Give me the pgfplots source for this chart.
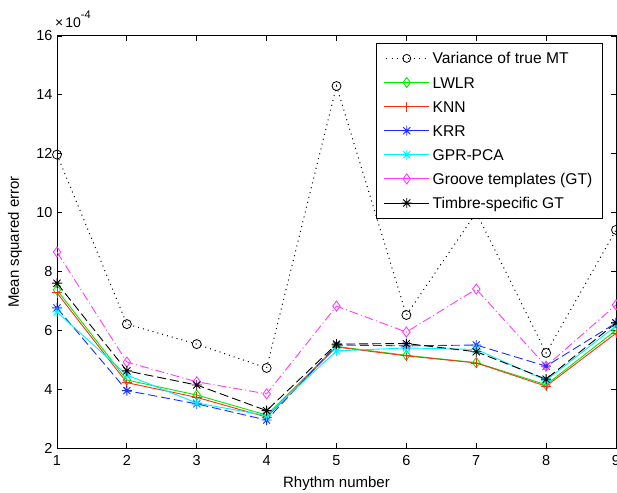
\documentclass[border=0pt]{standalone}
\usepackage{fontspec}
\setmainfont{Liberation Sans}
\usepackage{pgfplots}
\pgfplotsset{compat=1.18}
\pgfdeclareplotmark{mstar}{%
  \pgfpathmoveto{\pgfqpoint{-\pgfplotmarksize}{0pt}}\pgfpathlineto{\pgfqpoint{\pgfplotmarksize}{0pt}}%
  \pgfpathmoveto{\pgfqpoint{0pt}{-\pgfplotmarksize}}\pgfpathlineto{\pgfqpoint{0pt}{\pgfplotmarksize}}%
  \pgfpathmoveto{\pgfqpoint{-.707\pgfplotmarksize}{-.707\pgfplotmarksize}}\pgfpathlineto{\pgfqpoint{.707\pgfplotmarksize}{.707\pgfplotmarksize}}%
  \pgfpathmoveto{\pgfqpoint{-.707\pgfplotmarksize}{.707\pgfplotmarksize}}\pgfpathlineto{\pgfqpoint{.707\pgfplotmarksize}{-.707\pgfplotmarksize}}%
  \pgfusepathqstroke}
\definecolor{mred}{RGB}{255,45,20}
\definecolor{mblue}{RGB}{25,45,255}
\definecolor{mgreen}{RGB}{0,235,0}
\definecolor{mcyan}{RGB}{0,240,255}
\definecolor{mmag}{RGB}{255,60,255}
\begin{document}
\begin{tikzpicture}[x=1pt,y=1pt]
\begin{axis}[
  name=ax, at={(0,0)}, anchor=south west,
  scale only axis, width=559pt, height=412pt,
  xmin=1, xmax=9, ymin=2, ymax=16,
  xtick={1,...,9}, ytick={2,4,...,16},
  tick align=inside, major tick length=5pt,
  axis line style={line width=1pt},
  every tick/.style={black, line width=0.8pt},
  tick label style={font=\fontsize{14.5}{16}\selectfont},
  /pgf/number format/assume math mode=true,
  xticklabel style={yshift=-4pt},
  yticklabel style={xshift=-1pt},
  xlabel={Rhythm number}, ylabel={Mean squared error},
  label style={font=\fontsize{15}{17}\selectfont},
  xlabel style={at={(axis description cs:0.5,-0.087)}, anchor=center},
  ylabel style={at={(axis description cs:-0.075,0.5)}, anchor=center},
  legend cell align=left,
  legend image code/.code={%
    \draw[#1,solid] (0pt,0pt) -- (45pt,0pt);
    \draw[#1,solid] plot[mark repeat=1] coordinates {(22.5pt,0pt)};},
  legend style={at={(0.977,0.983)}, anchor=north east, draw=black, line width=0.8pt, fill=white,
    font=\fontsize{15.6}{17}\selectfont, row sep=5.1pt, inner xsep=7.5pt, inner ysep=5.5pt,
    nodes={inner ysep=2pt, inner xsep=3pt, text height=13pt, text depth=2pt}},
]
\addplot[black, line width=1pt, dash pattern=on 1pt off 4pt, mark=o, mark size=4.5pt, mark options={solid, line width=0.8pt},
  legend image code/.code={%
    \draw[black, line width=1pt, dash pattern=on 1pt off 4.5pt] (2pt,0pt) -- (45pt,0pt);
    \draw[black, solid, line width=0.8pt] (22.5pt,0pt) circle (4pt);}]
  coordinates {(1,11.97) (2,6.21) (3,5.53) (4,4.72) (5,14.3) (6,6.52) (7,10.0) (8,5.23) (9,9.41)};
\addlegendentry{Variance of true MT}
\addplot[mgreen, line width=0.9pt, mark=diamond, mark size=5pt, mark options={solid}]
  coordinates {(1,7.37) (2,4.31) (3,3.8) (4,3.12) (5,5.45) (6,5.15) (7,4.9) (8,4.15) (9,6.0)};
\addlegendentry{LWLR}
\addplot[mred, line width=0.9pt, mark=+, mark size=5pt, mark options={solid}]
  coordinates {(1,7.27) (2,4.22) (3,3.72) (4,3.05) (5,5.43) (6,5.13) (7,4.89) (8,4.1) (9,5.9)};
\addlegendentry{KNN}
\addplot[mblue, line width=0.9pt, dash pattern=on 9pt off 4pt, mark=mstar, mark size=5pt, mark options={solid}]
  coordinates {(1,6.76) (2,3.95) (3,3.5) (4,2.95) (5,5.5) (6,5.47) (7,5.5) (8,4.78) (9,6.25)};
\addlegendentry{KRR}
\addplot[mcyan, line width=0.9pt, mark=mstar, mark size=5pt, mark options={solid}]
  coordinates {(1,6.62) (2,4.48) (3,3.53) (4,3.1) (5,5.3) (6,5.4) (7,5.35) (8,4.3) (9,6.15)};
\addlegendentry{GPR-PCA}
\addplot[mmag, line width=0.9pt, dash pattern=on 9pt off 3pt on 1pt off 3pt, mark=diamond, mark size=5pt, mark options={solid}]
  coordinates {(1,8.66) (2,4.92) (3,4.25) (4,3.84) (5,6.82) (6,5.94) (7,7.4) (8,4.78) (9,6.86)};
\addlegendentry{Groove templates (GT)}
\addplot[black, line width=0.9pt, dash pattern=on 9pt off 4pt, mark=mstar, mark size=5pt, mark options={solid}]
  coordinates {(1,7.6) (2,4.62) (3,4.14) (4,3.27) (5,5.53) (6,5.55) (7,5.27) (8,4.34) (9,6.25)};
\addlegendentry{Timbre-specific GT}
\end{axis}
\node[anchor=base west, font=\fontsize{14}{14}\selectfont, inner sep=0pt] at (-2pt,8pt+412pt)
  {×\kern2pt 10\raisebox{9pt}{\fontsize{11}{10}\selectfont -4}};
\pgfresetboundingbox
\path[use as bounding box] (-57pt,-44pt) rectangle (560pt,448pt);
\end{tikzpicture}
\end{document}
